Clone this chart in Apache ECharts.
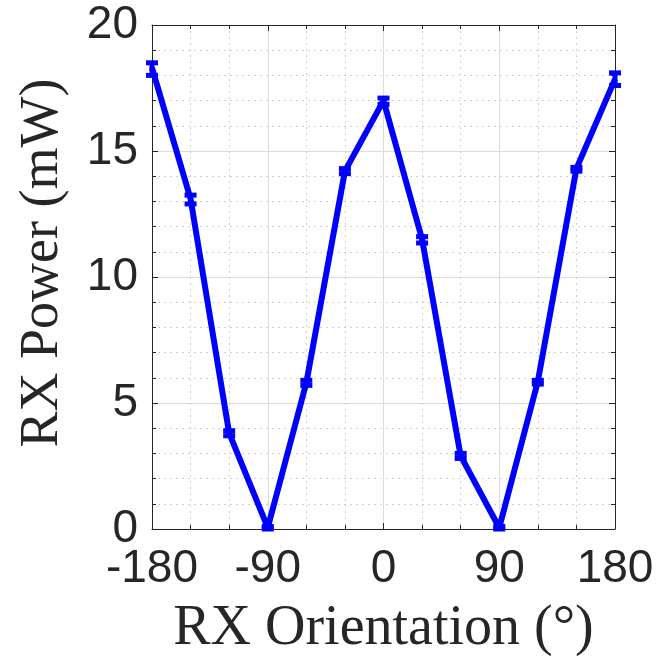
<!DOCTYPE html>
<html><head><meta charset="utf-8">
<script src="https://cdn.jsdelivr.net/npm/echarts@6/dist/echarts.min.js"></script>
<style>html,body{margin:0;padding:0;background:#fff}#c{width:660px;height:662px}</style>
</head><body><div id="c"></div>
<script>
const angles = [-180,-150,-120,-90,-60,-30,0,30,60,90,120,150,180];
const power  = [18.3,13.1,3.8,0.05,5.8,14.2,17.0,11.5,2.9,0.05,5.85,14.3,17.85];
const errLow = [18.0,12.9,3.7,0.0,5.7,14.1,16.85,11.35,2.8,0.0,5.75,14.2,17.6];
const errHigh= [18.5,13.25,3.9,0.1,5.9,14.3,17.1,11.6,3.0,0.1,5.9,14.35,18.1];
const xTicks = [-180,-90,0,90,180];
const yTicks = [0,5,10,15,20];

const chart = echarts.init(document.getElementById('c'));
const axisCol = '#262626';
const lineData = angles.map((a,i)=>[a,power[i]]);
const errData = angles.map((a,i)=>[a,errLow[i],errHigh[i]]);

function xAxisDef(pos, show){
  return {type:'value', position:pos, min:-180, max:180, interval:90,
    axisLine:{show:true, onZero:false, lineStyle:{color:axisCol,width:1}},
    axisTick:{show:true, inside:true, length:6, lineStyle:{color:axisCol}},
    minorTick:{show:true, splitNumber:3, length:4, lineStyle:{color:axisCol}},
    axisLabel:{show:show, fontFamily:'Liberation Sans', fontSize:46, color:axisCol, margin:17,
      formatter:v=>xTicks.includes(v)?String(v):''},
    splitLine:{show:show, lineStyle:{color:'#dcdcdc',width:1}},
    minorSplitLine:{show:show, lineStyle:{color:'#d0d0d0',type:[2,4],width:1}},
    name: show?'RX Orientation (°)':'', nameLocation:'middle', nameGap:72,
    nameTextStyle:{fontFamily:'Liberation Serif', fontSize:56, color:axisCol}};
}
function yAxisDef(pos, show){
  return {type:'value', position:pos, min:0, max:20, interval:5,
    axisLine:{show:true, onZero:false, lineStyle:{color:axisCol,width:1}},
    axisTick:{show:true, inside:true, length:6, lineStyle:{color:axisCol}},
    minorTick:{show:true, splitNumber:5, length:4, lineStyle:{color:axisCol}},
    axisLabel:{show:show, fontFamily:'Liberation Sans', fontSize:46, color:axisCol, margin:14,
      formatter:v=>yTicks.includes(v)?String(v):''},
    splitLine:{show:show, lineStyle:{color:'#dcdcdc',width:1}},
    minorSplitLine:{show:show, lineStyle:{color:'#d0d0d0',type:[2,4],width:1}},
    name: show?'RX Power (mW)':'', nameLocation:'middle', nameGap:82,
    nameTextStyle:{fontFamily:'Liberation Serif', fontSize:54, color:axisCol, padding:[0,0,0,28]}};
}

chart.setOption({
  animation:false,
  grid:{left:152, right:45, top:25, bottom:129},
  xAxis:[xAxisDef('bottom',true), xAxisDef('top',false)],
  yAxis:[yAxisDef('left',true), yAxisDef('right',false)],
  series:[
    {type:'line', data:lineData, showSymbol:false, lineStyle:{color:'#0000ff', width:6}, z:3},
    {type:'custom', data:errData, z:4,
      renderItem:function(params, api){
        const x = api.value(0);
        const lo = api.coord([x, api.value(1)]);
        const hi = api.coord([x, api.value(2)]);
        const w = 6;
        const st = {stroke:'#0000ff', lineWidth:5};
        return {type:'group', children:[
          {type:'line', shape:{x1:lo[0],y1:lo[1],x2:hi[0],y2:hi[1]}, style:st},
          {type:'line', shape:{x1:lo[0]-w,y1:lo[1],x2:lo[0]+w,y2:lo[1]}, style:st},
          {type:'line', shape:{x1:hi[0]-w,y1:hi[1],x2:hi[0]+w,y2:hi[1]}, style:st}
        ]};
      }}
  ]
});
</script></body></html>
